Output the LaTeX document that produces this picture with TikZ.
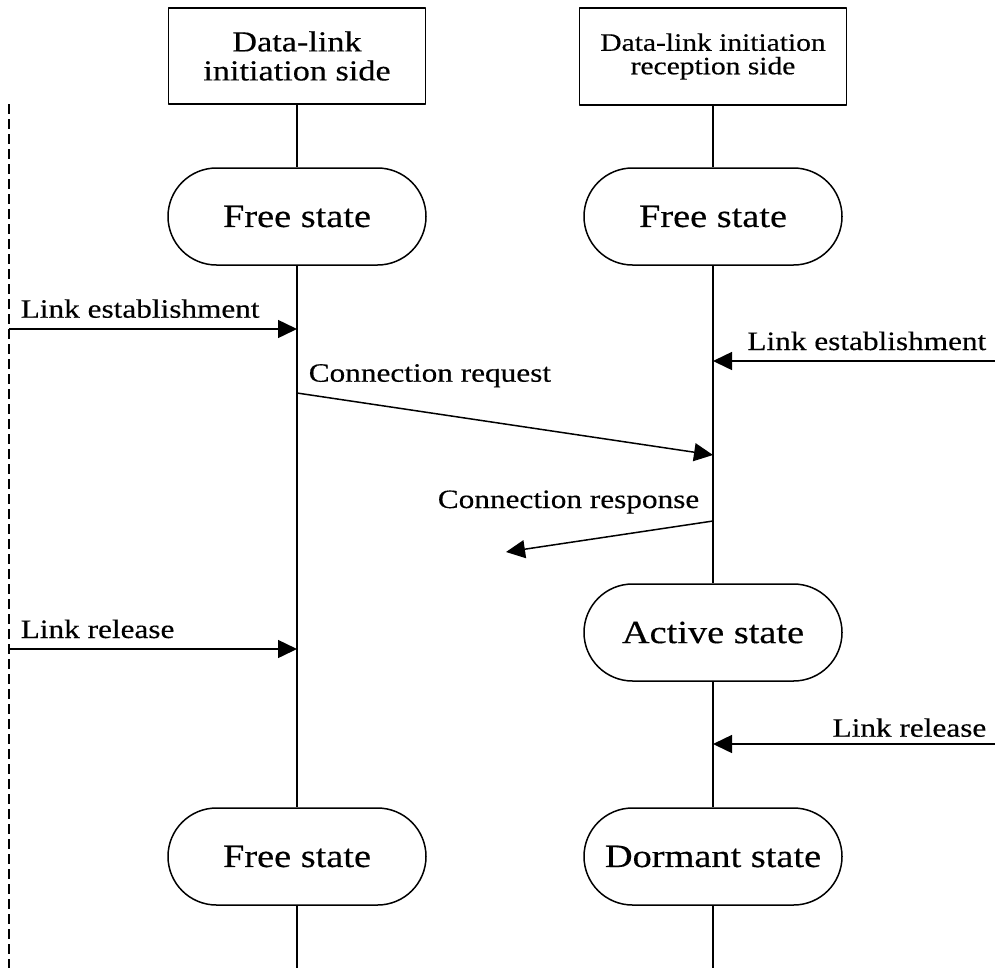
\documentclass[tikz,border=0pt]{standalone}
\usepackage{fontspec}
\setmainfont{Liberation Serif}[FakeStretch=1.18, FakeBold=0.4]
\usetikzlibrary{arrows.meta,shapes.misc}

\begin{document}
\begin{tikzpicture}[
    x = 1pt, y = -1pt,
    line join=round,
    line width = 1.5pt,
    headbox/.style = {draw, rectangle, line width=1.5pt, align=center, inner sep=0pt},
    statebox/.style = {draw, rounded rectangle, line width=1.5pt, minimum width=258pt,
                       minimum height=97pt, inner sep=0pt, font=\fontsize{32.5}{36}\selectfont},
    msg/.style = {-{Triangle[length=19pt, width=18pt]}, line width=1.5pt},
    lbl/.style = {inner sep=0pt, font=\fontsize{26.5}{30}\selectfont}
]
\useasboundingbox (0, 0) rectangle (995, 972);

% lifeline heads
\node[headbox, minimum width=257pt, minimum height=96pt,
      font=\fontsize{29}{29}\selectfont] (headL) at (297, 56) {Data-link\\initiation side};
\node[headbox, minimum width=267pt, minimum height=97pt,
      font=\fontsize{25}{23.5}\selectfont] (headR) at (713, 56.5) {Data-link initiation\\reception side};

% states
\node[statebox] (freeL)    at (297, 216.5) {Free state};
\node[statebox] (freeR)    at (713, 216.5) {Free state};
\node[statebox] (active)   at (713, 632.5) {Active state};
\node[statebox] (freeL2)   at (297, 856.5) {Free state};
\node[statebox] (dormant)  at (713, 856.5) {Dormant state};

\coordinate (endL) at (297, 968);
\coordinate (endR) at (713, 968);

\draw (headL.south) -- (freeL.north);
\draw (freeL.south) -- (freeL2.north);
\draw (freeL2.south) -- (endL);
\draw (headR.south) -- (freeR.north);
\draw (freeR.south) -- (active.north);
\draw (active.south) -- (dormant.north);
\draw (dormant.south) -- (endR);

% outside boundary
\coordinate (bndTop) at (9, 104);
\coordinate (bndBot) at (9, 968);
\draw[dash pattern=on 10pt off 5pt] (bndTop) -- (bndBot);

% message points
\coordinate (estFrom)  at (9, 329);
\coordinate (estTo)    at (297, 329);
\coordinate (estRFrom) at (995, 361);
\coordinate (estRTo)   at (713, 361);
\coordinate (reqFrom)  at (297, 393);
\coordinate (reqTo)    at (713, 455);
\coordinate (rspFrom)  at (713, 521);
\coordinate (rspTo)    at (506, 552);
\coordinate (relFrom)  at (9, 649);
\coordinate (relTo)    at (297, 649);
\coordinate (relRFrom) at (995, 744);
\coordinate (relRTo)   at (713, 744);

\draw[msg] (estFrom) -- (estTo);
\draw[msg] (estRFrom) -- (estRTo);
\draw[msg] (reqFrom) -- (reqTo);
\draw[msg] (rspFrom) -- (rspTo);
\draw[msg] (relFrom) -- (relTo);
\draw[msg] (relRFrom) -- (relRTo);

\node[lbl, anchor=base west] (estLbl)  at (20, 317.7)  {Link establishment};
\node[lbl, anchor=base east] (estRLbl) at (987, 350)   {Link establishment};
\node[lbl, anchor=base west] (reqLbl)  at (308, 381.7) {Connection request};
\node[lbl, anchor=base east] (rspLbl)  at (700, 508)   {Connection response};
\node[lbl, anchor=base west] (relLbl)  at (20, 638)    {Link release};
\node[lbl, anchor=base east] (relRLbl) at (987, 736.7) {Link release};

\end{tikzpicture}
\end{document}
